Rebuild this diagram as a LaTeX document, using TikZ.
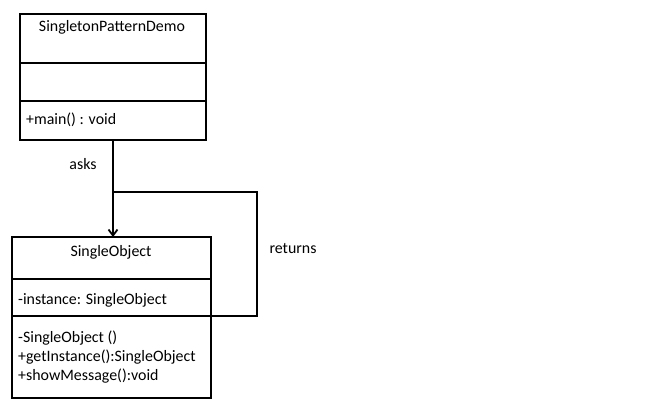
\documentclass[tikz,border=0pt]{standalone}
\usepackage{fontspec}
\setmainfont{Carlito}
\usetikzlibrary{arrows.meta}
\begin{document}
\begin{tikzpicture}[x=1pt,y=-1pt,
  box/.style={draw,line width=1.8pt},
  conn/.style={draw,line width=1.8pt},
  txt/.style={font=\fontsize{15.9}{18}\selectfont,inner sep=0pt},
  lefttxt/.style={txt,anchor=west}]
\useasboundingbox (0,0) rectangle (660,408);
% top class
\draw[box] (20,14) rectangle (206,140);
\draw[box] (20,63) -- (206,63);
\draw[box] (20,101) -- (206,101);
\node[txt] (tname) at (112,27) {SingletonPatternDemo};
\node[lefttxt] (tm) at (26,120) {+main() : void};
\coordinate (ta) at (113,140);
% bottom class
\draw[box] (12,237) rectangle (211,398);
\draw[box] (12,279) -- (211,279);
\draw[box] (12,316) -- (211,316);
\node[txt] (bname) at (111,252) {SingleObject};
\node[lefttxt] (battr) at (18,300) {-instance: SingleObject};
\node[lefttxt] (bm1) at (18,338) {-SingleObject ()};
\node[lefttxt] (bm2) at (18,357) {+getInstance():SingleObject};
\node[lefttxt] (bm3) at (18,376) {+showMessage():void};
\coordinate (bt) at (113,237);
\coordinate (br) at (211,316);
\coordinate (j) at (113,192);
\coordinate (c1) at (257,192);
\coordinate (c2) at (257,316);
\draw[conn,-{Straight Barb[length=6pt,width=9pt]}] (ta) -- (bt);
\draw[conn] (j) -- (c1) -- (c2) -- (br);
\node[txt] (asks) at (83,164) {asks};
\node[txt] (ret) at (293,249) {returns};
\end{tikzpicture}
\end{document}
